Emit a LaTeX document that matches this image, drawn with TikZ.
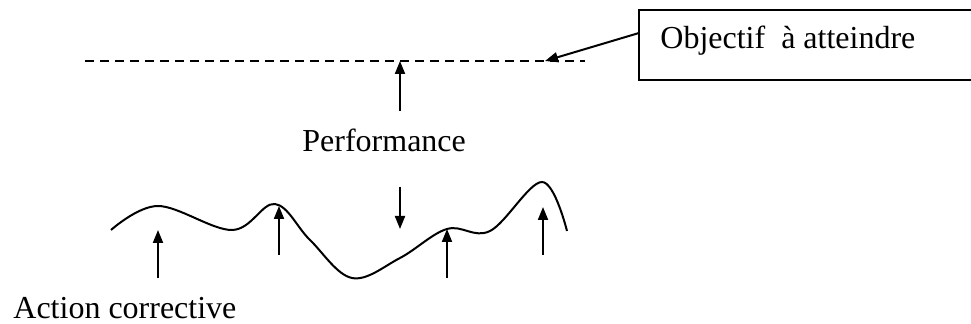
\documentclass[tikz,border=0pt]{standalone}
\usepackage{fontspec}
\setmainfont{Liberation Serif}
\usetikzlibrary{arrows.meta}
\begin{document}
\begin{tikzpicture}[x=0.5pt,y=-0.5pt,
  lbl/.style={font=\fontsize{16}{19}\selectfont, inner sep=0pt, anchor=base west},
  arr/.style={line width=1pt, -{Triangle[length=6.5pt,width=5pt]}},
  wave/.style={line width=1pt}]
\useasboundingbox (0,0) rectangle (971,324);
% target line
\draw[line width=0.8pt, dash pattern=on 4.5pt off 3pt] (85,61) coordinate (dl) -- (585,61) coordinate (dr);
\coordinate (tgt) at (545,61);
\coordinate (perfTop) at (400,61);
% box (extends past the right edge)
\draw[line width=0.8pt] (639,10) coordinate (boxNW) rectangle (985,80) coordinate (boxSE);
\coordinate (bw) at (639,33);
\node[lbl] (obj) at (660,49) {Objectif \ à atteindre};
\draw[arr] (bw) -- (tgt);
% performance
\node[lbl] (perf) at (302,152) {Performance};
\coordinate (pu1) at (400,111);
\draw[arr] (pu1) -- (perfTop);
\coordinate (pd1) at (400,187);
\coordinate (pd2) at (400,229);
\draw[arr] (pd1) -- (pd2);
% wave
\draw[wave] plot[smooth, tension=0.6] coordinates {(111,230) (158,206) (232,230) (275,204) (310,240) (352,278) (400,258) (447,229) (490,231) (542,182) (567,231)};
% corrective arrows
\coordinate (a1b) at (158,278); \coordinate (a1t) at (158,230);
\coordinate (a2b) at (279,255); \coordinate (a2t) at (279,206);
\coordinate (a3b) at (447,278); \coordinate (a3t) at (447,229);
\coordinate (a4b) at (543,255); \coordinate (a4t) at (543,207);
\draw[arr] (a1b) -- (a1t);
\draw[arr] (a2b) -- (a2t);
\draw[arr] (a3b) -- (a3t);
\draw[arr] (a4b) -- (a4t);
\node[lbl] (act) at (13,319) {Action corrective};
\end{tikzpicture}
\end{document}
